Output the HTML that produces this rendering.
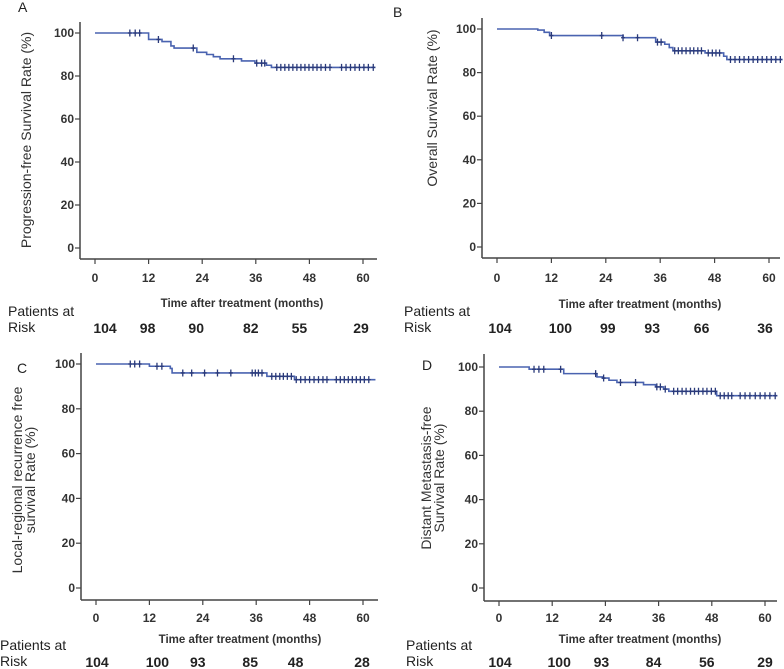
<!DOCTYPE html>
<html><head><meta charset="utf-8">
<style>
html,body{margin:0;padding:0;background:#fff;}
svg{display:block;font-family:"Liberation Sans",Arial,sans-serif;}
.tk{font-size:12px;font-weight:bold;fill:#333;}
.lbl{font-size:14px;fill:#333;}
.ttl{font-size:11.5px;font-weight:bold;fill:#333;}
.risk{font-size:14px;font-weight:bold;fill:#222;}
.pl{font-size:14px;fill:#222;}
</style></head>
<body>
<svg id="chart" width="784" height="669" viewBox="0 0 784 669"></svg>
<script>
// ---- Data ----
const xTicks = [0, 12, 24, 36, 48, 60];
const yTicks = [0, 20, 40, 60, 80, 100];

const aEventTimes = [0, 12, 15, 17, 17.7, 22.8, 25, 26.5, 28, 32.8, 35.8, 38.4, 39.5];
const aSurvival   = [100, 97, 96, 94, 93, 91, 90, 89, 88, 87, 86, 85, 84];
const aCensor = [7.8, 9, 10, 14.2, 22, 31, 36.2, 37.3, 38, 40.7, 41.6, 42.5, 43.4, 44.3, 45.2, 46.1, 47, 47.9, 48.8, 49.7, 50.6, 51.6, 52.6, 55.2, 56.2, 57.2, 58.2, 59.2, 60.2, 61.2, 62.3];
const aRisk = ["104","98","90","82","55","29"];

const bEventTimes = [0, 9, 10.4, 11.6, 27.8, 35, 37, 38, 38.8, 45.9, 50, 50.7];
const bSurvival   = [100, 99.5, 98.5, 97, 96, 94, 93, 91.5, 90, 89, 87.5, 86];
const bCensor = [12, 23.1, 27.8, 31, 35.4, 36.2, 39.2, 40, 40.8, 41.7, 42.6, 43.4, 44.3, 45.1, 46.6, 47.5, 48.3, 49.1, 51.5, 52.5, 53.5, 54.5, 55.5, 56.5, 57.5, 58.5, 59.5, 60.5, 61.5, 62.5];
const bRisk = ["104","100","99","93","66","36"];

const cEventTimes = [0, 12, 16.7, 17.1, 38.4, 44.6];
const cSurvival   = [100, 99, 98, 96, 94.5, 93];
const cCensor = [7.7, 8.7, 9.8, 13.7, 14.8, 19.5, 21.5, 24.4, 27.3, 30.3, 35.1, 35.8, 36.5, 37.3, 39.5, 40.4, 41.3, 42.1, 43, 43.9, 45, 46, 47, 48, 49, 50, 51, 51.9, 54, 54.9, 55.8, 56.7, 57.6, 58.5, 59.4, 60.3, 61.3];
const cRisk = ["104","100","93","85","48","28"];

const dEventTimes = [0, 6.8, 14.6, 22.1, 23.3, 24.8, 26.6, 32.6, 35.3, 37.1, 38.3, 49.1];
const dSurvival   = [100, 99, 97, 95.5, 95, 94, 93, 92, 91, 90, 89, 87];
const dCensor = [7.9, 9, 10.1, 13.9, 21.8, 23.6, 27.4, 30.8, 35.6, 36.4, 37.5, 39.4, 40.3, 41.3, 42.2, 43.2, 44.1, 45, 46, 46.9, 47.9, 48.8, 49.9, 50.8, 51.7, 52.5, 54.4, 55.5, 56.6, 57.8, 58.9, 60, 61.1, 62.3];
const dRisk = ["104","100","93","84","56","29"];

const NS = "http://www.w3.org/2000/svg";
const svg = document.getElementById("chart");
function mk(tag, attrs, parent, text){
  const e = document.createElementNS(NS, tag);
  for (const k in attrs) e.setAttribute(k, attrs[k]);
  if (text !== undefined) e.textContent = text;
  (parent || svg).appendChild(e);
  return e;
}

function panel(p){
  const g = mk("g", {});
  
  
  const X = t => p.x0 + (t / 60) * (p.x60 - p.x0);
  const Y = v => p.y0 - (v / 100) * (p.y0 - p.y100);
  const yAx = mk("line", {x1:p.ax, y1:p.ytop, x2:p.ax, y2:p.axy, stroke:"#444", "stroke-width":1.5}, g);
  
  
  const xAx = mk("line", {x1:p.ax, y1:p.axy, x2:p.xend, y2:p.axy, stroke:"#444", "stroke-width":1.5}, g);
  
  
  yTicks.forEach(v => {
    mk("line", {x1:p.ax-5, y1:Y(v), x2:p.ax, y2:Y(v), stroke:"#444", "stroke-width":1.2}, g);
    const t = mk("text", {x:p.ax-6, y:Y(v)+4, "text-anchor":"end", class:"tk"}, g, String(v));
    
    
  });
  xTicks.forEach(v => {
    mk("line", {x1:X(v), y1:p.axy, x2:X(v), y2:p.axy+5, stroke:"#444", "stroke-width":1.2}, g);
    const t = mk("text", {x:X(v), y:p.ticky, "text-anchor":"middle", class:"tk"}, g, String(v));
    
    
  });
  let d = "";
  for (let i = 0; i < p.times.length; i++){
    const t = p.times[i], s = p.surv[i];
    if (i === 0) d += "M" + X(t) + "," + Y(s);
    else d += "H" + X(t) + "V" + Y(s);
  }
  d += "H" + X(p.tmax);
  const curve = mk("path", {d:d, fill:"none", stroke:"#4a63b0", "stroke-width":1.6}, g);
  
  
  const sAt = t => { let s = p.surv[0]; for (let i=0;i<p.times.length;i++) if (p.times[i] <= t) s = p.surv[i]; return s; };
  p.censor.forEach(t => {
    const cx = X(t), cy = Y(sAt(t));
    const c = mk("path", {d:"M"+cx+","+(cy-3.5)+"V"+(cy+3.5)+"M"+(cx-2)+","+cy+"H"+(cx+2), stroke:"#2a3a7a", "stroke-width":1.3}, g);
    
    
  });
  const L = mk("text", {x:p.letter[0], y:p.letter[1], class:"pl"}, g, p.id);
  
  
  const yl = mk("text", {transform:"translate("+p.ylab[0]+","+p.ylab[1]+") rotate(-90)", "text-anchor":"middle", class:"lbl"}, g);
  
  
  p.ylines.forEach((ln, i) => {
    mk("tspan", {x:0, dy: i===0 ? (p.ylines.length>1 ? -3 : 4) : 13}, yl, ln);
  });
  const xt = mk("text", {x:p.xtitle[0], y:p.xtitle[1], "text-anchor":"middle", class:"ttl"}, g, "Time after treatment (months)");
  
  
  const pa = mk("text", {x:p.riskx, y:p.pay, class:"pl"}, g, "Patients at");
  
  
  mk("text", {x:p.riskx, y:p.risky, class:"pl"}, g, "Risk");
  p.risk.forEach((r, i) => {
    const t = mk("text", {x:X(xTicks[i]) + p.riskOff[i], y:p.risky+1, "text-anchor":"middle", class:"risk"}, g, r);
    
    
  });
}

panel({id:"A", ax:80, ytop:22, axy:259, xend:377, x0:95, x60:363, y0:248, y100:33, ticky:282,
  times:aEventTimes, surv:aSurvival, censor:aCensor, tmax:62.8, risk:aRisk,
  riskOff:[10,-1,-6,-5,-10,-2], letter:[18,12], ylab:[27,140], ylines:["Progression-free Survival Rate (%)"],
  xtitle:[242,307], riskx:8, pay:316, risky:332});
panel({id:"B", ax:482, ytop:18, axy:258, xend:780, x0:497, x60:769, y0:247, y100:29, ticky:282,
  times:bEventTimes, surv:bSurvival, censor:bCensor, tmax:63, risk:bRisk,
  riskOff:[3,9,2,-8,-13,-4], letter:[393,17], ylab:[433,108], ylines:["Overall Survival Rate (%)"],
  xtitle:[640,308], riskx:404, pay:316, risky:332});
panel({id:"C", ax:81, ytop:353, axy:600, xend:378, x0:96, x60:363, y0:588, y100:364, ticky:622,
  times:cEventTimes, surv:cSurvival, censor:cCensor, tmax:62.8, risk:cRisk,
  riskOff:[1,8,-5,-6,-14,-1], letter:[17,373], ylab:[25,480], ylines:["Local-regional recurrence free","survival  Rate (%)"],
  xtitle:[240,643], riskx:0, pay:650, risky:666});
panel({id:"D", ax:484, ytop:354, axy:601, xend:777, x0:499, x60:765, y0:588, y100:367, ticky:622,
  times:dEventTimes, surv:dSurvival, censor:dCensor, tmax:62.8, risk:dRisk,
  riskOff:[1,7,-4,-5,-5,0], letter:[422,370], ylab:[434,478], ylines:["Distant Metastasis-free","Survival Rate (%)"],
  xtitle:[640,643], riskx:406, pay:650, risky:666});
</script>
</body></html>
